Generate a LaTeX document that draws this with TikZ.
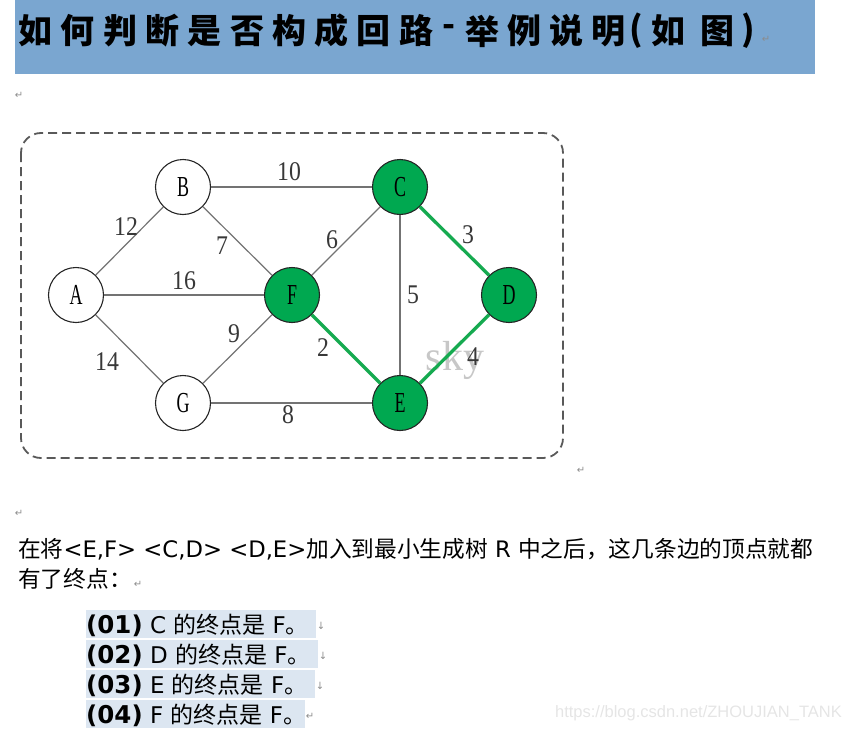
\documentclass[tikz,border=0pt]{standalone}
\usepackage{fontspec}
\usepackage{graphicx}
\usepackage{tikz}
\setmainfont{Liberation Serif}
\newfontfamily\cjk{Noto Sans CJK SC}
\newfontfamily\lat{DejaVu Sans}
\newfontfamily\wmfont{Liberation Sans}
\definecolor{band}{RGB}{122,166,208}
\definecolor{vgreen}{RGB}{0,168,80}
\definecolor{tgreen}{RGB}{22,170,80}
\definecolor{hl}{RGB}{220,230,241}
\newcommand{\vl}[1]{\scalebox{0.62}[1]{#1}}
\newcommand{\wl}[1]{\scalebox{0.88}[1]{#1}}

\begin{document}
\begin{tikzpicture}[x=1pt,y=-1pt,
		vtx/.style={circle,draw=black!85,line width=1.1pt,fill=white,minimum size=55pt,inner sep=0pt,font=\fontsize{29}{29}\selectfont},
		hit/.style={vtx,fill=vgreen},
		edge/.style={black!55,line width=1.2pt},
		tree/.style={tgreen,line width=3.3pt},
		wt/.style={inner sep=0pt,text=black!78,font=\fontsize{27}{27}\selectfont},
		ttl/.style={inner sep=0pt,font=\cjk\bfseries\fontsize{34}{34}\selectfont},
		body/.style={anchor=base west,inner sep=0pt,font=\lat\fontsize{22.7}{22.7}\selectfont},
		item/.style={body,font=\lat\fontsize{23}{23}\selectfont},
		cr/.style={inner sep=0pt,text=black!45,font=\lat\fontsize{10}{10}\selectfont}]
	\useasboundingbox (0,0) rectangle (851,728);
	\fill[band] (15,0) rectangle (815,74);
	\foreach \xp/\ch [count=\i] in {35.5/如,77.8/何,120.1/判,162.4/断,204.7/是,247/否,289.3/构,331.6/成,373.9/回,416.2/路,449/-,482/举,524/例,566/说,608/明,636/{(},668/如,717/图,748/{)}}
		\node[ttl] (t\i) at (\xp,31) {\ch};
	\node[cr] (m1) at (766,39) {↵};
	\node[cr] (m2) at (19,95) {↵};

	\draw[black!65, line width=1.8pt, dash pattern=on 9pt off 5pt, rounded corners=20pt] (21,133) rectangle (563,458);
	\node[font=\fontsize{42}{42}\selectfont,text=black!22,inner sep=0pt] (sky) at (455,360) {sky};

	\node[vtx] (A) at (76,295) {\vl{A}};
	\node[vtx] (B) at (183,187) {\vl{B}};
	\node[hit] (C) at (400,187) {\vl{C}};
	\node[hit] (D) at (509,295) {\vl{D}};
	\node[hit] (E) at (400,403) {\vl{E}};
	\node[hit] (F) at (292,295) {\vl{F}};
	\node[vtx] (G) at (183,403) {\vl{G}};

	\draw[edge] (A) -- (B);
	\draw[edge] (A) -- (F);
	\draw[edge] (A) -- (G);
	\draw[edge] (B) -- (C);
	\draw[edge] (B) -- (F);
	\draw[edge] (F) -- (C);
	\draw[edge] (G) -- (F);
	\draw[edge] (G) -- (E);
	\draw[edge] (C) -- (E);
	\draw[tree] (C) -- (D);
	\draw[tree] (F) -- (E);
	\draw[tree] (D) -- (E);

	\node[wt] (wBC) at (289,172) {\wl{10}};
	\node[wt] (wAB) at (126,227) {\wl{12}};
	\node[wt] (wBF) at (222,246) {\wl{7}};
	\node[wt] (wFC) at (332,240) {\wl{6}};
	\node[wt] (wAF) at (184,281) {\wl{16}};
	\node[wt] (wCE) at (413,295) {\wl{5}};
	\node[wt] (wCD) at (468,235) {\wl{3}};
	\node[wt] (wGF) at (234,334) {\wl{9}};
	\node[wt] (wFE) at (323,348) {\wl{2}};
	\node[wt] (wDE) at (473,357) {\wl{4}};
	\node[wt] (wAG) at (107,362) {\wl{14}};
	\node[wt] (wGE) at (288,415) {\wl{8}};
	\node[cr] (m3) at (581,470) {↵};

	\node[cr] (m4) at (19,513) {↵};
	\node[body] (p1) at (18,557) {\cjk 在将{\lat <E,F> <C,D> <D,E>}加入到最小生成树{\lat\ R\ }中之后，这几条边的顶点就都};
	\node[body] (p2) at (18,587) {\cjk 有了终点：};
	\node[cr] (m5) at (138,584) {↵};

	\foreach \idx/\vx/\y/\r/\mk in {01/C/633/316/↓,02/D/663/318/↓,03/E/693/315/↓,04/F/723/305/↵}{
		\fill[hl] (86,\y-23) rectangle (\r,\y+5);
		\node[item] (i\idx) at (86,\y) {{\bfseries\fontsize{24.5}{24.5}\selectfont(\idx)} \vx\ {\cjk 的终点是} F{\cjk 。}};
		\node[cr] (k\idx) at (\r+5,\y-7) {\mk};
	}

	\node[anchor=base east,inner sep=0pt,text=black!10,font=\wmfont\fontsize{16.5}{16.5}\selectfont] (csdn) at (842,717) {https://blog.csdn.net/ZHOUJIAN\_TANK};
\end{tikzpicture}
\end{document}
